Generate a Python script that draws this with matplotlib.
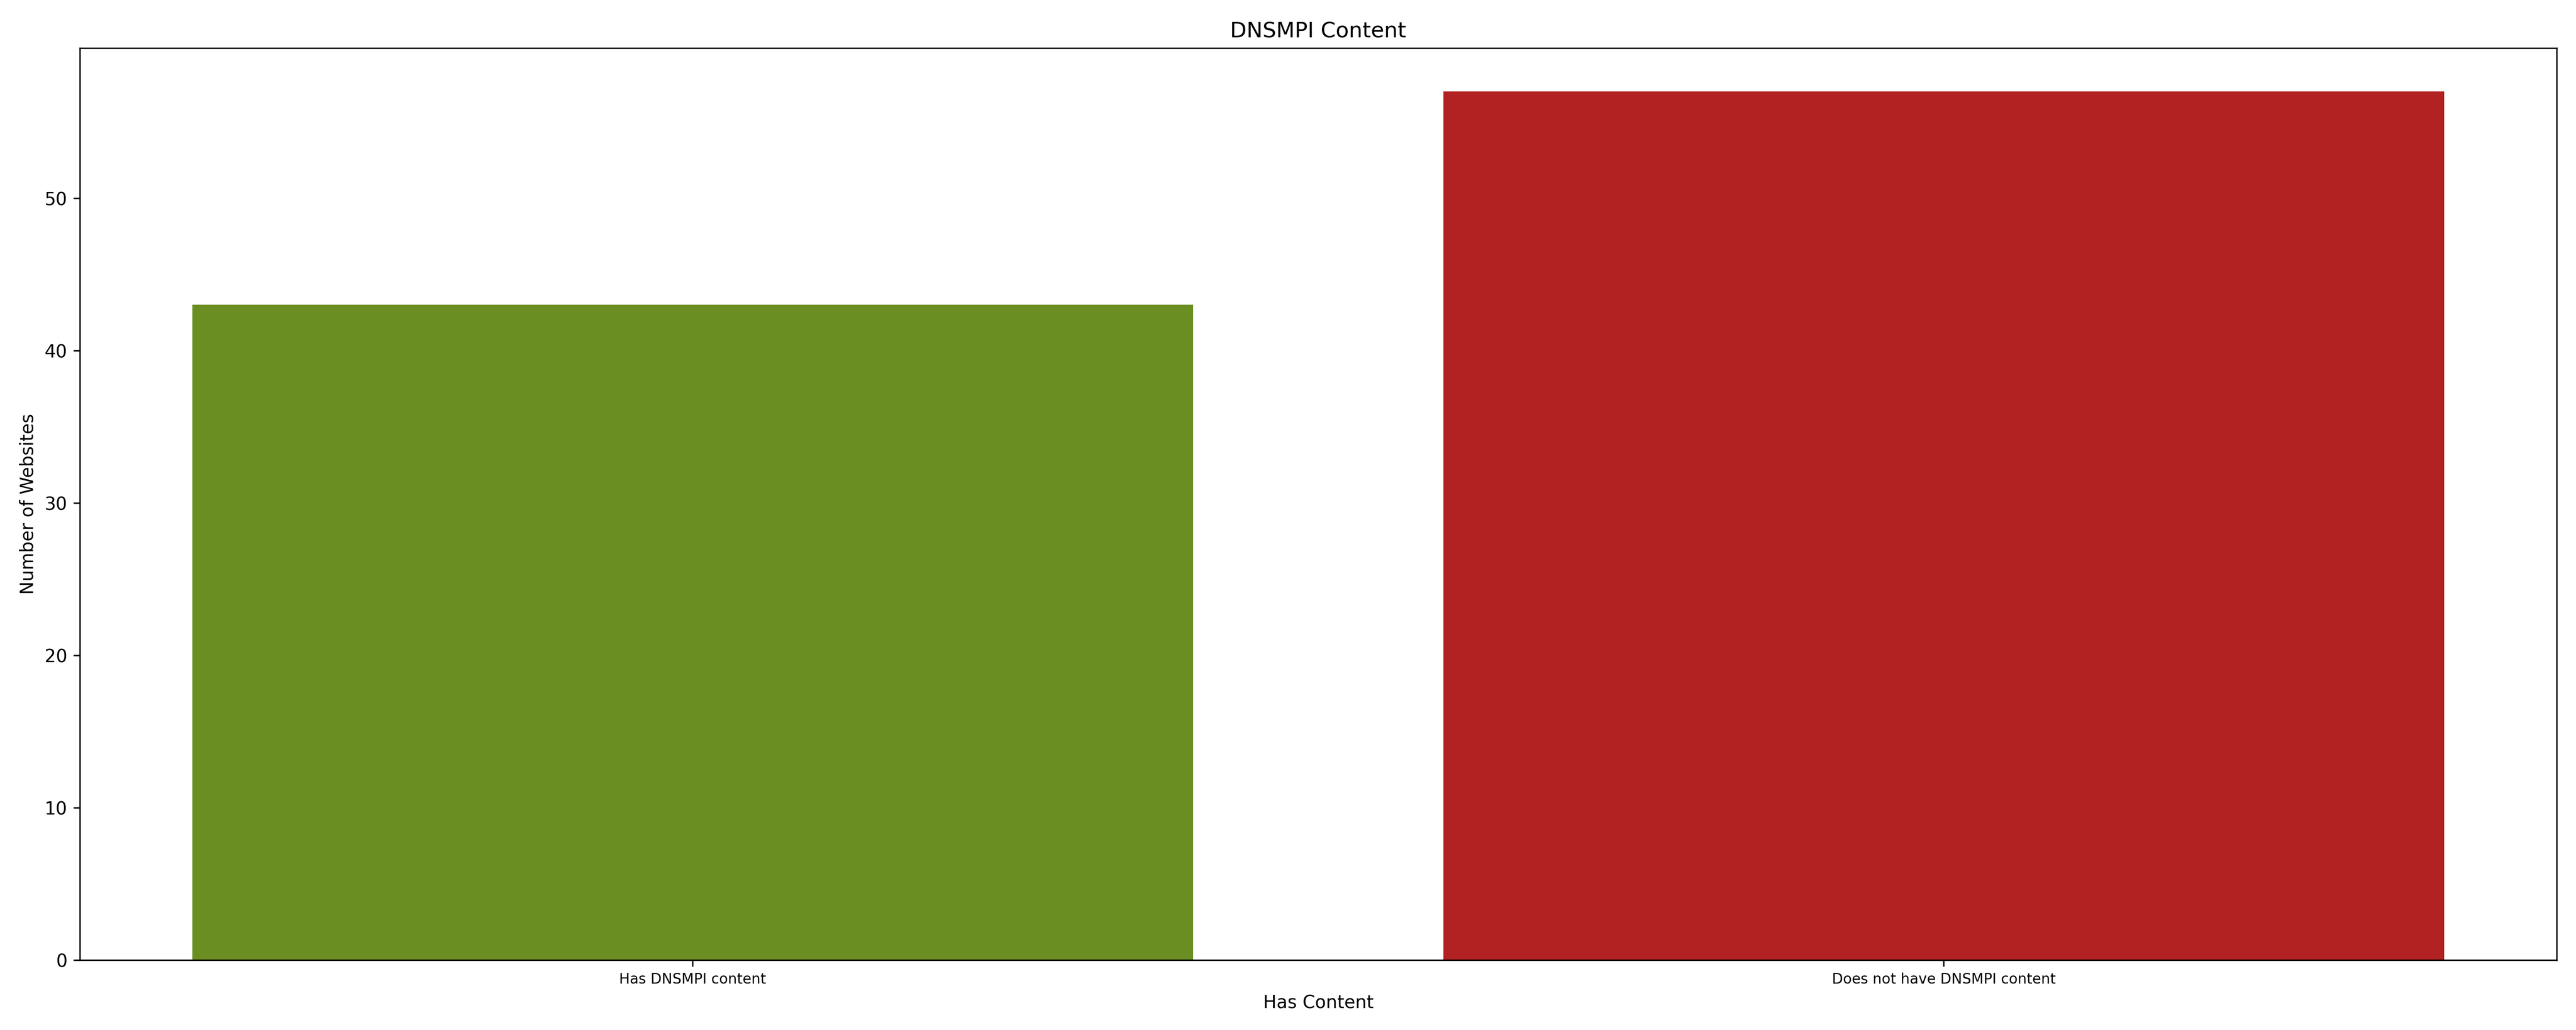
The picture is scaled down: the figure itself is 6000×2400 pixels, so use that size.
import matplotlib.pyplot as plt

# Counts of websites with / without DNSMPI content
categories = ['Has DNSMPI content', 'Does not have DNSMPI content']
counts = [43, 57]
colors = ['olivedrab', 'firebrick']

fig, ax = plt.subplots(figsize=(20, 8))

ax.bar(categories, counts, color=colors)
ax.set_title('DNSMPI Content')
ax.set_xlabel('Has Content')
ax.set_ylabel('Number of Websites')
ax.tick_params(axis='x', labelsize=8)

plt.tight_layout()
plt.savefig('out.png', dpi=300)
